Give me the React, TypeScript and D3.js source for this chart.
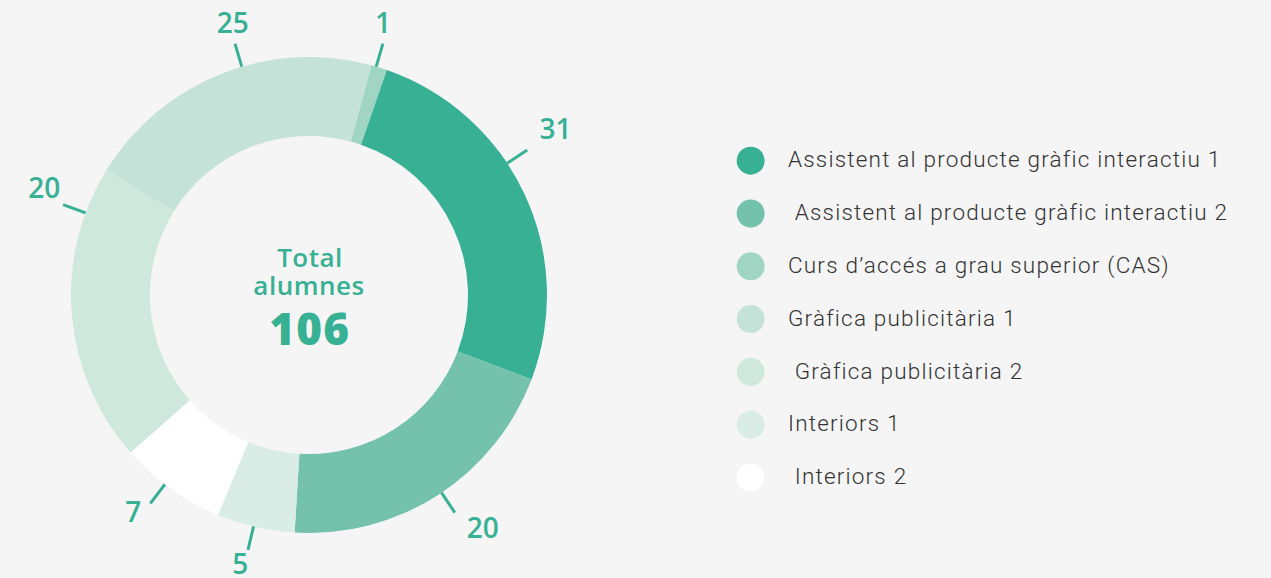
import React from "react";
import * as d3 from "d3";

// ---------- data ----------
const categories = [
  "Assistent al producte gràfic interactiu 1",
  " Assistent al producte gràfic interactiu 2",
  "Curs d’accés a grau superior (CAS)",
  "Gràfica publicitària 1",
  " Gràfica publicitària 2",
  "Interiors 1",
  " Interiors 2",
];
// student counts shown as labels
const counts = [31, 20, 1, 25, 20, 5, 7];
// share of the ring each slice covers in the picture (%)
const ringShares = [25.47, 20.19, 1.08, 20.42, 20.31, 5.28, 7.25];
// clockwise order of slices on the ring (indices into categories)
const ringOrder = [2, 0, 1, 5, 6, 4, 3];
const totalLabel = ["Total", "alumnes"];
const totalValue = "106";

// ---------- style / layout ----------
const colors = ["#37b094", "#74c2ab", "#a0d5c4", "#c5e2d9", "#cee8de", "#d9ede6", "#ffffff"];
const labelColor = "#37b094";
const W = 1271, H = 578;
const cx = 309, cy = 295;
const rOuter = 238, rInner = 159;
const startDeg = 15.2;
const lineR0 = 238, lineR1 = 262;
// angular nudge (deg) of each leader line from its slice middle, in category order
const labelNudge = [-8.55, -0.95, -0.75, 5.15, 25.05, 0.5, 1.75];
// text offset from leader end, in category order
const labelOffset: [number, number][] = [
  [28.3, -21], [27.8, 15], [0, -20.7], [-2.3, -20.7], [-18.9, -16.2], [-7.8, 14.2], [-17, 8.3],
];
const legendX = 750.7, legendTextX = 788, legendY0 = 167.3, legendStep = 52.8;

const rad = (d: number) => (d * Math.PI) / 180;

export default function App() {
  const items = ringOrder.map((i) => ({ i, share: ringShares[i] }));
  const pie = d3
    .pie<{ i: number; share: number }>()
    .sort(null)
    .value((d) => d.share)
    .startAngle(rad(startDeg))
    .endAngle(rad(startDeg) + 2 * Math.PI);
  const arcs = pie(items);
  const arc = d3.arc<d3.PieArcDatum<{ i: number; share: number }>>().innerRadius(rInner).outerRadius(rOuter);
  const font = "Roboto, 'Noto Sans', sans-serif";
  const wide = "'Open Sans', Roboto, sans-serif";

  return (
    <svg
      width={W}
      height={H}
      style={{ position: "absolute", left: 0, top: 0, background: "#f5f5f5" }}
      xmlns="http://www.w3.org/2000/svg"
    >
      <rect width={W} height={H} fill="#f5f5f5" />
      <g transform={`translate(${cx},${cy})`}>
        {arcs.map((a) => (
          <path key={a.data.i} d={arc(a) || ""} fill={colors[a.data.i]} />
        ))}
        {arcs.map((a) => {
          const i = a.data.i;
          const ang = (a.startAngle + a.endAngle) / 2 + rad(labelNudge[i]);
          const s = Math.sin(ang), c = -Math.cos(ang);
          const x0 = s * lineR0, y0 = c * lineR0, x1 = s * lineR1, y1 = c * lineR1;
          const [dx, dy] = labelOffset[i];
          return (
            <g key={"l" + i}>
              <line x1={x0} y1={y0} x2={x1} y2={y1} stroke={labelColor} strokeWidth={3} />
              <text
                x={x1 + dx}
                y={y1 + dy + 10}
                textAnchor="middle"
                fontFamily={wide}
                fontWeight={600}
                fontSize={28}
                fill={labelColor}
              >
                {counts[i]}
              </text>
            </g>
          );
        })}
        <text textAnchor="middle" fontFamily={wide} fontWeight={600} fontSize={26} fill={labelColor} letterSpacing={0.5}>
          <tspan x={1} y={267.3 - cy}>{totalLabel[0]}</tspan>
          <tspan x={0} y={295 - cy}>{totalLabel[1]}</tspan>
        </text>
        <text x={0.7} y={345 - cy} textAnchor="middle" fontFamily={wide} fontWeight={800} fontSize={44} fill={labelColor} letterSpacing={1.2}>
          {totalValue}
        </text>
      </g>
      <g>
        {categories.map((name, i) => (
          <g key={name}>
            <circle cx={legendX} cy={legendY0 + i * legendStep - 6.6} r={14} fill={colors[i]} />
            <text
              x={legendTextX}
              y={legendY0 + i * legendStep}
              fontFamily={font}
              fontWeight={300}
              fontSize={22.5}
              letterSpacing={1.2}
              fill="#333333"
              style={{ whiteSpace: "pre" }}
              xmlSpace="preserve"
            >
              {name}
            </text>
          </g>
        ))}
      </g>
    </svg>
  );
}
